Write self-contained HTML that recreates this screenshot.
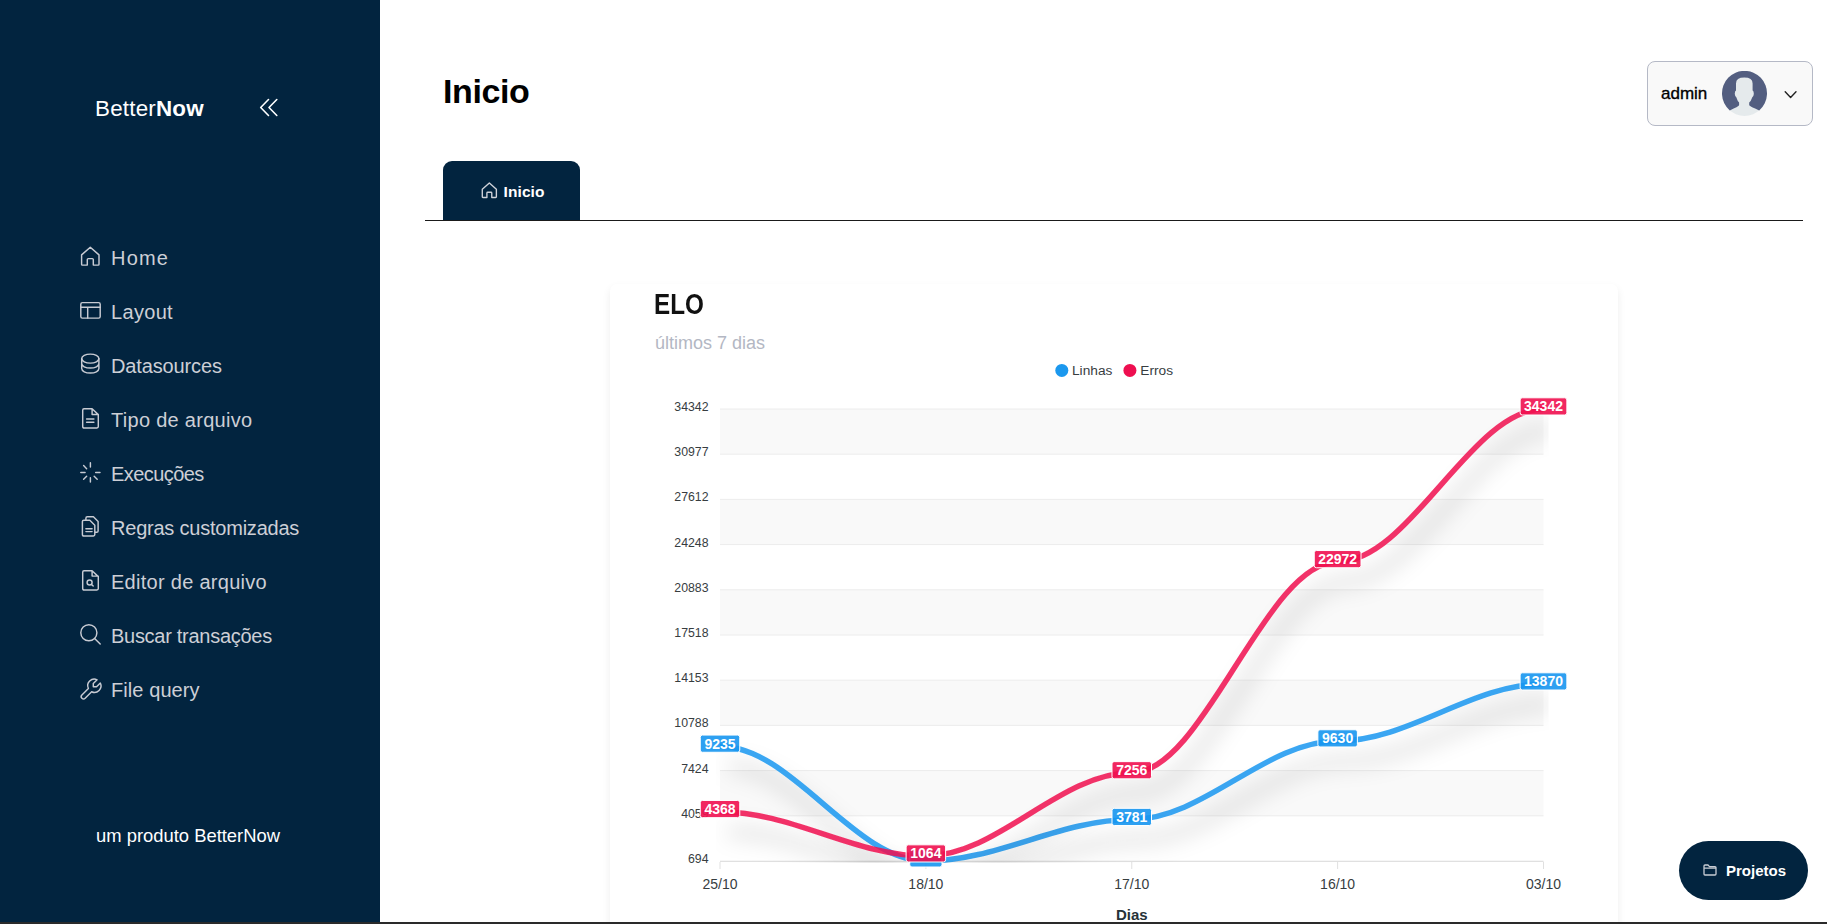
<!DOCTYPE html>
<html><head><meta charset="utf-8"><title>BetterNow</title>
<style>
*{box-sizing:border-box;margin:0;padding:0}
html,body{width:1827px;height:924px;overflow:hidden;background:#fff;font-family:"Liberation Sans",sans-serif}
#sb{position:absolute;left:0;top:0;width:380px;height:922px;background:#02243f}
#bbar{position:absolute;left:0;top:922px;width:1827px;height:2px;background:#2a2a2a}
.logo{position:absolute;left:95px;top:95px;font-size:22.4px;letter-spacing:0.2px;color:#fff;line-height:28px;white-space:nowrap}
.logo b{font-weight:700}
.nav{position:absolute;left:111px;font-size:20px;color:#cdcfd6;line-height:24px;white-space:nowrap}
.ic{position:absolute;left:80px;width:21px;height:21px;overflow:visible}
.ic *{fill:none;stroke:#c8cbd3;stroke-width:1.45;stroke-linecap:round;stroke-linejoin:round}
.foot{position:absolute;left:96px;top:824.5px;font-size:18.4px;color:#fff;line-height:22px;white-space:nowrap}
h1{position:absolute;left:443px;top:71px;font-size:34px;letter-spacing:-0.4px;font-weight:700;color:#000;line-height:40px}
#tab{position:absolute;left:443px;top:161px;width:137px;height:59px;background:#02243f;border-radius:9px 9px 0 0}
#tab span{position:absolute;left:60.5px;top:21.5px;font-size:15.5px;letter-spacing:0.1px;font-weight:700;color:#fff;line-height:18px}
#hline{position:absolute;left:425px;top:219.5px;width:1378px;height:1px;background:#1a1a1a}
#user{position:absolute;left:1647px;top:61px;width:166px;height:65px;border:1px solid #b5b9c6;border-radius:8px;background:#f9f9f9}
#user span{position:absolute;left:13px;top:22px;font-size:17px;color:#000;-webkit-text-stroke:0.35px #000;line-height:20px}
#card{position:absolute;left:609.5px;top:283.5px;width:1008.5px;height:700px;background:#fff;border-radius:7px;box-shadow:0 4px 8px rgba(0,0,0,0.075)}
.elo{position:absolute;left:654px;top:288px;font-size:29px;font-weight:700;color:#111;line-height:32px;transform-origin:0 0;transform:scaleX(0.836)}
.sub{position:absolute;left:655px;top:332px;font-size:18px;color:#b3b7c3;line-height:22px}
#proj{position:absolute;left:1679px;top:841px;width:129px;height:59px;border-radius:30px;background:#02243f}
#proj span{position:absolute;left:47px;top:20px;font-size:15px;font-weight:700;color:#fff;line-height:19px}
</style></head><body>
<div id="sb"></div>
<div class="logo">Better<b>Now</b></div>
<svg style="position:absolute;left:258px;top:97px" width="22" height="22" viewBox="0 0 22 22"><path d="M10.5 2.5 L2.7 10.5 L10.5 18.5 M18.8 2.5 L11 10.5 L18.8 18.5" fill="none" stroke="#fff" stroke-width="1.6" stroke-linecap="round" stroke-linejoin="round"/></svg>

<!-- nav -->
<svg class="ic" style="top:246px" viewBox="0 0 21 21"><path d="M1.6 8.9 L10.3 1.2 L19 8.9 V18.3 Q19 19.1 18.2 19.1 H13.3 V13.6 Q13.3 12.6 12.3 12.6 H8.3 Q7.3 12.6 7.3 13.6 V19.1 H2.4 Q1.6 19.1 1.6 18.3 Z"/></svg>
<div class="nav" style="top:246px;letter-spacing:1.20px">Home</div>

<svg class="ic" style="top:301px" viewBox="0 0 21 21"><rect x="0.8" y="1.6" width="19.4" height="15.5" rx="1.6"/><path d="M0.8 6.3 H20.2 M7.7 6.3 V17.1"/></svg>
<div class="nav" style="top:300px;letter-spacing:0.32px">Layout</div>

<svg class="ic" style="top:353px" viewBox="0 0 21 21"><ellipse cx="10.3" cy="5.6" rx="8.6" ry="4.5"/><path d="M1.7 5.6 V15.6 A8.6 4.5 0 0 0 18.9 15.6 V5.6 M1.7 10.6 A8.6 4.5 0 0 0 18.9 10.6"/></svg>
<div class="nav" style="top:354px;letter-spacing:-0.14px">Datasources</div>

<svg class="ic" style="top:407px" viewBox="0 0 21 21"><path d="M4 1.8 H12.1 L18.3 7.6 V19.6 Q18.3 21 16.9 21 H4.1 Q2.7 21 2.7 19.6 V3.2 Q2.7 1.8 4 1.8 Z M12.1 1.8 V7.4 H18.3 M6.6 12 H13.9 M6.6 15.2 H13.9"/></svg>
<div class="nav" style="top:408px;letter-spacing:0.29px">Tipo de arquivo</div>

<svg class="ic" style="top:461px" viewBox="0 0 21 21"><path d="M10.40 6.10 L10.40 1.80 M6.65 7.65 L3.61 4.61 M5.10 11.40 L0.80 11.40 M6.65 15.15 L3.61 18.19 M10.40 16.70 L10.40 21.00 M14.15 15.15 L17.19 18.19 M15.70 11.40 L20.00 11.40"/></svg>
<div class="nav" style="top:462px;letter-spacing:-0.56px">Execuções</div>

<svg class="ic" style="top:515px" viewBox="0 0 21 21"><path d="M5.9 5.2 V3.2 Q5.9 1.8 7.3 1.8 H13.4 L18.1 6.5 V15.9 Q18.1 17.3 16.7 17.3 H14.8 M3.8 5.2 H9.8 L14.8 10.2 V19.6 Q14.8 21 13.4 21 H3.8 Q2.4 21 2.4 19.6 V6.6 Q2.4 5.2 3.8 5.2 Z M5.9 13.8 H12.1 M5.9 16.6 H12.1"/></svg>
<div class="nav" style="top:516px;letter-spacing:-0.22px">Regras customizadas</div>

<svg class="ic" style="top:569px" viewBox="0 0 21 21"><path d="M4 1.8 H12.1 L18.3 7.6 V19.6 Q18.3 21 16.9 21 H4.1 Q2.7 21 2.7 19.6 V3.2 Q2.7 1.8 4 1.8 Z M12.1 1.8 V7.1 H18.3"/><circle cx="9.6" cy="13.4" r="2.5"/><path d="M11.5 15.4 L13.2 17.1"/></svg>
<div class="nav" style="top:570px;letter-spacing:0.28px">Editor de arquivo</div>

<svg class="ic" style="top:623px" viewBox="0 0 21 21"><circle cx="8.85" cy="9.7" r="8.05"/><path d="M14.6 15.5 L20.2 21.1"/></svg>
<div class="nav" style="top:624px;letter-spacing:-0.28px">Buscar transações</div>

<svg class="ic" style="top:677px" viewBox="0 0 24 24"><g transform="translate(12 13.03) scale(1.24) translate(-11.43 -11.43)"><g transform="translate(24,0) scale(-1,1)"><path style="stroke-width:1.34" d="M7 10h3v-3l-3.5 -3.5a6 6 0 0 1 8 8l6 6a2 2 0 0 1 -3 3l-6 -6a6 6 0 0 1 -8 -8l3.5 3.5"/></g></g></svg>
<div class="nav" style="top:678px;letter-spacing:0.08px">File query</div>

<div class="foot">um produto BetterNow</div>

<!-- header -->
<h1>Inicio</h1>
<div id="tab"><svg style="position:absolute;left:37.8px;top:20.7px;overflow:visible" width="17" height="17" viewBox="0 0 21 21"><path d="M1.6 8.9 L10.3 1.2 L19 8.9 V18.3 Q19 19.1 18.2 19.1 H13.3 V13.6 Q13.3 12.6 12.3 12.6 H8.3 Q7.3 12.6 7.3 13.6 V19.1 H2.4 Q1.6 19.1 1.6 18.3 Z" fill="none" stroke="#d0d3da" stroke-width="1.7" stroke-linejoin="round"/></svg><span>Inicio</span></div>
<div id="hline"></div>
<div id="user"><span>admin</span>
<svg style="position:absolute;left:74px;top:9px" width="46" height="46" viewBox="0 0 46 46"><circle cx="22.5" cy="22.4" r="22.5" fill="#e5eaec"/><path fill="#535e80" d="M7.8 39.4 A22.5 22.5 0 1 1 37.2 39.4 Q28 35.5 27.2 34.3 L27.2 31.6 Q29 30 30.3 26.2 Q31.6 25.6 31.8 23 Q31.9 20 30.6 19.5 L30.6 12.5 Q30.6 6.6 22.3 6.6 Q14 6.6 14 12.5 L14 19.5 Q12.7 20 12.8 23 Q13 25.6 14.3 26.2 Q15.5 30 17.1 31.6 L17.1 34.3 Q16.5 35.5 7.8 39.4 Z"/></svg>
<svg style="position:absolute;left:136px;top:28px" width="13" height="10" viewBox="0 0 13 10"><path d="M1.2 1.8 L6.6 7.4 L12 1.8" fill="none" stroke="#222" stroke-width="1.4" stroke-linecap="round" stroke-linejoin="round"/></svg>
</div>

<!-- card -->
<div id="card"></div>
<div class="elo">ELO</div>
<div class="sub">últimos 7 dias</div>

<!-- CHART -->
<svg id="chart" style="position:absolute;left:0;top:0" width="1827" height="924" viewBox="0 0 1827 924" font-family="Liberation Sans, sans-serif">
<defs><filter id="sh" filterUnits="userSpaceOnUse" x="600" y="300" width="1100" height="700"><feFlood flood-color="#000" flood-opacity="0.3"/><feComposite in2="SourceAlpha" operator="in"/><feOffset dx="7.7" dy="19.8"/><feGaussianBlur stdDeviation="11" result="s"/><feMerge><feMergeNode in="s"/><feMergeNode in="SourceGraphic"/></feMerge></filter>
<clipPath id="gc"><rect x="716" y="400" width="832.5" height="463"/></clipPath></defs>
<rect x="720" y="409.00" width="823.5" height="45.20" fill="#f9f9f9"/>
<rect x="720" y="499.40" width="823.5" height="45.20" fill="#f9f9f9"/>
<rect x="720" y="589.80" width="823.5" height="45.20" fill="#f9f9f9"/>
<rect x="720" y="680.20" width="823.5" height="45.20" fill="#f9f9f9"/>
<rect x="720" y="770.60" width="823.5" height="45.20" fill="#f9f9f9"/>
<line x1="720" x2="1543.5" y1="409.00" y2="409.00" stroke="#ececec" stroke-width="1"/>
<line x1="720" x2="1543.5" y1="454.20" y2="454.20" stroke="#ececec" stroke-width="1"/>
<line x1="720" x2="1543.5" y1="499.40" y2="499.40" stroke="#ececec" stroke-width="1"/>
<line x1="720" x2="1543.5" y1="544.60" y2="544.60" stroke="#ececec" stroke-width="1"/>
<line x1="720" x2="1543.5" y1="589.80" y2="589.80" stroke="#ececec" stroke-width="1"/>
<line x1="720" x2="1543.5" y1="635.00" y2="635.00" stroke="#ececec" stroke-width="1"/>
<line x1="720" x2="1543.5" y1="680.20" y2="680.20" stroke="#ececec" stroke-width="1"/>
<line x1="720" x2="1543.5" y1="725.40" y2="725.40" stroke="#ececec" stroke-width="1"/>
<line x1="720" x2="1543.5" y1="770.60" y2="770.60" stroke="#ececec" stroke-width="1"/>
<line x1="720" x2="1543.5" y1="815.80" y2="815.80" stroke="#ececec" stroke-width="1"/>
<line x1="720" x2="1543.5" y1="861.00" y2="861.00" stroke="#ececec" stroke-width="1"/>
<line x1="720" x2="1543.5" y1="861.5" y2="861.5" stroke="#e0e0e0" stroke-width="1"/>
<line x1="720.00" x2="720.00" y1="862" y2="869" stroke="#e0e0e0" stroke-width="1"/>
<line x1="925.88" x2="925.88" y1="862" y2="869" stroke="#e0e0e0" stroke-width="1"/>
<line x1="1131.75" x2="1131.75" y1="862" y2="869" stroke="#e0e0e0" stroke-width="1"/>
<line x1="1337.62" x2="1337.62" y1="862" y2="869" stroke="#e0e0e0" stroke-width="1"/>
<line x1="1543.50" x2="1543.50" y1="862" y2="869" stroke="#e0e0e0" stroke-width="1"/>
<text x="708.5" y="411.00" text-anchor="end" font-size="12.3" fill="#373d3f">34342</text>
<text x="708.5" y="456.20" text-anchor="end" font-size="12.3" fill="#373d3f">30977</text>
<text x="708.5" y="501.40" text-anchor="end" font-size="12.3" fill="#373d3f">27612</text>
<text x="708.5" y="546.60" text-anchor="end" font-size="12.3" fill="#373d3f">24248</text>
<text x="708.5" y="591.80" text-anchor="end" font-size="12.3" fill="#373d3f">20883</text>
<text x="708.5" y="637.00" text-anchor="end" font-size="12.3" fill="#373d3f">17518</text>
<text x="708.5" y="682.20" text-anchor="end" font-size="12.3" fill="#373d3f">14153</text>
<text x="708.5" y="727.40" text-anchor="end" font-size="12.3" fill="#373d3f">10788</text>
<text x="708.5" y="772.60" text-anchor="end" font-size="12.3" fill="#373d3f">7424</text>
<text x="708.5" y="817.80" text-anchor="end" font-size="12.3" fill="#373d3f">4059</text>
<text x="708.5" y="863.00" text-anchor="end" font-size="12.3" fill="#373d3f">694</text>
<text x="720.00" y="889" text-anchor="middle" font-size="14" fill="#373d3f">25/10</text>
<text x="925.88" y="889" text-anchor="middle" font-size="14" fill="#373d3f">18/10</text>
<text x="1131.75" y="889" text-anchor="middle" font-size="14" fill="#373d3f">17/10</text>
<text x="1337.62" y="889" text-anchor="middle" font-size="14" fill="#373d3f">16/10</text>
<text x="1543.50" y="889" text-anchor="middle" font-size="14" fill="#373d3f">03/10</text>
<text x="1131.75" y="920.3" text-anchor="middle" font-size="15" font-weight="700" fill="#263238">Dias</text>
<g clip-path="url(#gc)">
<path d="M720.00 746.27 C792.06 746.27 853.82 861.00 925.88 861.00 C997.93 861.00 1059.69 819.53 1131.75 819.53 C1203.81 819.53 1265.57 740.96 1337.62 740.96 C1409.68 740.96 1471.44 684.00 1543.50 684.00" fill="none" stroke="#1796f0" stroke-width="5.5" stroke-opacity="0.85" stroke-linecap="butt" filter="url(#sh)"/>
<path d="M720.00 811.65 C792.06 811.65 853.82 856.03 925.88 856.03 C997.93 856.03 1059.69 772.85 1131.75 772.85 C1203.81 772.85 1265.57 561.74 1337.62 561.74 C1409.68 561.74 1471.44 409.00 1543.50 409.00" fill="none" stroke="#f0104f" stroke-width="5.5" stroke-opacity="0.85" stroke-linecap="butt" filter="url(#sh)"/>
</g>
<rect x="700.25" y="735.07" width="39.50" height="17.2" rx="2.2" fill="#1796f0" fill-opacity="0.9" stroke="#fff" stroke-width="1"/><text x="720.00" y="748.57" text-anchor="middle" font-size="14" font-weight="700" fill="#fff">9235</text>
<rect x="909.75" y="849.80" width="32.25" height="17.2" rx="2.2" fill="#1796f0" fill-opacity="0.9" stroke="#fff" stroke-width="1"/>
<rect x="1112.00" y="808.33" width="39.50" height="17.2" rx="2.2" fill="#1796f0" fill-opacity="0.9" stroke="#fff" stroke-width="1"/><text x="1131.75" y="821.83" text-anchor="middle" font-size="14" font-weight="700" fill="#fff">3781</text>
<rect x="1317.88" y="729.76" width="39.50" height="17.2" rx="2.2" fill="#1796f0" fill-opacity="0.9" stroke="#fff" stroke-width="1"/><text x="1337.62" y="743.26" text-anchor="middle" font-size="14" font-weight="700" fill="#fff">9630</text>
<rect x="1520.12" y="672.80" width="46.75" height="17.2" rx="2.2" fill="#1796f0" fill-opacity="0.9" stroke="#fff" stroke-width="1"/><text x="1543.50" y="686.30" text-anchor="middle" font-size="14" font-weight="700" fill="#fff">13870</text>
<rect x="700.25" y="800.45" width="39.50" height="17.2" rx="2.2" fill="#f0104f" fill-opacity="0.9" stroke="#fff" stroke-width="1"/><text x="720.00" y="813.95" text-anchor="middle" font-size="14" font-weight="700" fill="#fff">4368</text>
<rect x="906.12" y="844.83" width="39.50" height="17.2" rx="2.2" fill="#f0104f" fill-opacity="0.9" stroke="#fff" stroke-width="1"/><text x="925.88" y="858.33" text-anchor="middle" font-size="14" font-weight="700" fill="#fff">1064</text>
<rect x="1112.00" y="761.65" width="39.50" height="17.2" rx="2.2" fill="#f0104f" fill-opacity="0.9" stroke="#fff" stroke-width="1"/><text x="1131.75" y="775.15" text-anchor="middle" font-size="14" font-weight="700" fill="#fff">7256</text>
<rect x="1314.25" y="550.54" width="46.75" height="17.2" rx="2.2" fill="#f0104f" fill-opacity="0.9" stroke="#fff" stroke-width="1"/><text x="1337.62" y="564.04" text-anchor="middle" font-size="14" font-weight="700" fill="#fff">22972</text>
<rect x="1520.12" y="397.80" width="46.75" height="17.2" rx="2.2" fill="#f0104f" fill-opacity="0.9" stroke="#fff" stroke-width="1"/><text x="1543.50" y="411.30" text-anchor="middle" font-size="14" font-weight="700" fill="#fff">34342</text>
<circle cx="1061.8" cy="370.4" r="6.5" fill="#1b98ee"/>
<text x="1072" y="374.8" font-size="13.7" fill="#373d3f">Linhas</text>
<circle cx="1129.9" cy="370.4" r="6.5" fill="#ee0f50"/>
<text x="1140.3" y="374.8" font-size="13.7" fill="#373d3f">Erros</text>
</svg>
<!-- /CHART -->

<div id="proj"><svg style="position:absolute;left:24px;top:23px" width="14" height="13" viewBox="0 0 14 13"><path d="M1 2 Q1 1 2 1 H5 L6.5 2.6 H12 Q13 2.6 13 3.6 V10 Q13 11 12 11 H2 Q1 11 1 10 Z M1 4.1 H13" fill="none" stroke="#c8ccd4" stroke-width="1.3" stroke-linejoin="round"/></svg><span>Projetos</span></div>
<div id="bbar"></div>
</body></html>
